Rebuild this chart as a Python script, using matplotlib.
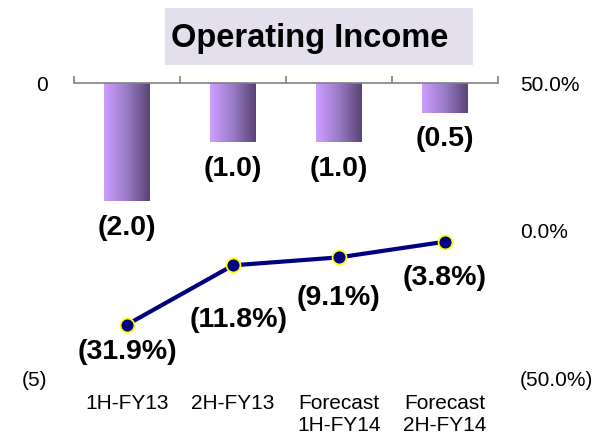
import matplotlib.pyplot as plt
import numpy as np
from matplotlib.colors import LinearSegmentedColormap
from matplotlib.patches import Rectangle

plt.rcParams['font.family'] = ['Liberation Sans', 'DejaVu Sans']

# operating income by half year (bars) and margin (line)
categories = ['1H-FY13', '2H-FY13', 'Forecast\n1H-FY14', 'Forecast\n2H-FY14']
income = [-2.0, -1.0, -1.0, -0.5]
margin = [-31.9, -11.8, -9.1, -3.8]
income_labels = ['(2.0)', '(1.0)', '(1.0)', '(0.5)']
margin_labels = ['(31.9%)', '(11.8%)', '(9.1%)', '(3.8%)']
left_ticks = [0, -5]
left_ticklabels = ['0', '(5)']
right_ticks = [50, 0, -50]
right_ticklabels = ['50.0%', '0.0%', '(50.0%)']

fig = plt.figure(figsize=(6.05, 4.34), dpi=100)
ax = fig.add_axes([0.1223, 0.129, 0.7008, 0.6797])
x = np.arange(len(categories))
bar_w = 0.43

# horizontal purple gradient for each bar
cmap = LinearSegmentedColormap.from_list('bar', ['#cd9eff', '#9b7bc8', '#5a4474'])
grad = np.linspace(0, 1, 64).reshape(1, -1)
for xi, v in zip(x, income):
    ax.imshow(grad, cmap=cmap, aspect='auto', interpolation='bilinear',
              extent=[xi - bar_w / 2, xi + bar_w / 2, v, 0], zorder=2)

for xi, v, lab in zip(x, income, income_labels):
    ax.annotate(lab, (xi, v), xytext=(0, -10), textcoords='offset points',
                ha='center', va='top', fontsize=20.5, fontweight='bold')

ax.set_xlim(-0.5, 3.5)
ax.set_ylim(-5, 0)
for s in ['left', 'right', 'bottom']:
    ax.spines[s].set_visible(False)
ax.spines['top'].set_color('#808080')
ax.spines['top'].set_linewidth(1.2)
ax.xaxis.set_ticks_position('top')
ax.set_xticks(np.arange(-0.5, 4, 1))
ax.set_xticklabels([])
ax.tick_params(axis='x', direction='out', length=5, color='#808080', width=1.2)
ax.set_yticks(left_ticks)
ax.set_yticklabels(left_ticklabels)
ax.tick_params(axis='y', length=0, labelsize=15, pad=19)

for xi, c in zip(x, categories):
    ax.text(xi, -0.055, c, transform=ax.get_xaxis_transform(), ha='center',
            va='top', fontsize=15, linespacing=1.2)

ax2 = ax.twinx()
ax2.set_ylim(-50, 50)
for s in ax2.spines.values():
    s.set_visible(False)
ax2.plot(x, margin, color='#000080', lw=3, marker='o', ms=10,
         mfc='#000080', mec='#ffff00', mew=1.3, zorder=3)
offsets = [(0, -10), (4, -30), (0, -20), (0, -17)]
for xi, v, lab, off in zip(x, margin, margin_labels, offsets):
    ax2.annotate(lab, (xi, v), xytext=off, textcoords='offset points',
                 ha='center', va='top', fontsize=20.5, fontweight='bold')
ax2.set_yticks(right_ticks)
ax2.set_yticklabels(right_ticklabels)
ax2.tick_params(axis='y', length=0, labelsize=15, pad=16)

# title in a lavender panel
fig.patches.append(Rectangle((165 / 605, 1 - 65 / 434), 308 / 605, 57 / 434,
                             transform=fig.transFigure, fc='#e4dfec', ec='none'))
fig.text(310 / 605, 1 - 38 / 434, 'Operating Income', ha='center', va='center',
         fontsize=23.5, fontweight='bold')

fig.savefig('out.png', dpi=100)
